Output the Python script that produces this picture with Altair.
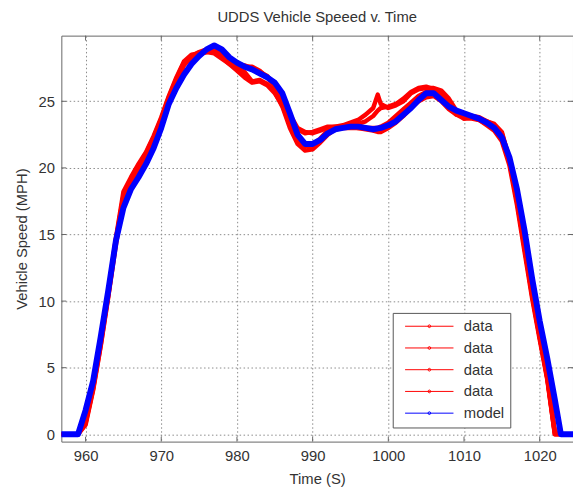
import altair as alt
import pandas as pd

TITLE = "UDDS Vehicle Speeed v. Time"
X_TITLE = "Time (S)"
Y_TITLE = "Vehicle Speed (MPH)"
XTICKS = [960, 970, 980, 990, 1000, 1010, 1020]
YTICKS = [0, 5, 10, 15, 20, 25]
X_DOMAIN = [956.8, 1024.4]
Y_DOMAIN = [-0.55, 29.93]

SERIES = ["data1", "data2", "data3", "data4", "model"]
COLORS = ["#ff0000", "#ff0000", "#ff0000", "#ff0000", "#0000ff"]

T_DATA = [957, 958, 959, 960, 961, 962, 963, 964, 965, 966, 967, 968, 969, 970,
          971, 972, 973, 974, 975, 976, 977, 978, 979, 980, 981, 982, 983, 984,
          985, 986, 987, 988, 989, 990, 991, 992, 993, 994, 995, 996, 997, 998,
          998.6, 999, 1000, 1001, 1002, 1003, 1004, 1005, 1006, 1007, 1008, 1009,
          1010, 1011, 1012, 1013, 1014, 1015, 1016, 1017, 1018, 1019, 1020, 1021,
          1022, 1023, 1024]

DATA1 = [0, 0, 0, 0.9, 3.5, 6.9, 10.6, 14.6, 17.9, 19.1, 20.1, 21.1, 22.3, 23.7,
         25.3, 26.7, 27.9, 28.4, 28.6, 28.8, 29.0, 28.6, 28.0, 27.7, 27.6, 27.6, 27.3, 26.8,
         26.1, 25.2, 24.0, 23.0, 22.7, 22.6, 22.8, 23.0, 23.1, 23.2, 23.4, 23.6, 24.0, 24.5,
         25.5, 24.8, 24.5, 24.7, 25.0, 25.6, 25.9, 26.0, 26.0, 25.8, 25.2, 24.3,
         23.7, 23.9, 23.8, 23.5, 23.3, 22.7, 20.6, 17.5, 14.0, 10.4, 7.3, 4.3,
         0.2, 0, 0]
DATA2 = [0, 0, 0, 0.7, 3.3, 6.6, 10.3, 14.2, 17.6, 18.9, 19.9, 20.9, 22.0, 23.4,
         25.0, 26.4, 27.7, 28.3, 28.5, 28.7, 28.8, 28.3, 27.8, 27.5, 27.2, 26.5, 26.6, 26.3,
         25.7, 24.6, 23.0, 21.8, 21.3, 21.4, 21.9, 22.5, 22.9, 23.0, 23.0, 23.0, 22.9, 22.8,
         22.7, 22.7, 23.0, 23.4, 23.9, 24.5, 25.0, 25.3, 25.4, 25.0, 24.4, 24.0,
         23.9, 23.8, 23.6, 23.2, 22.8, 22.0, 20.2, 17.2, 13.7, 10.2, 7.1, 4.1,
         0, 0, 0]
DATA3 = [0, 0, 0, 1.1, 3.8, 7.0, 10.7, 14.7, 18.2, 19.3, 20.3, 21.2, 22.4, 23.8,
         25.4, 26.8, 28.0, 28.5, 28.6, 28.7, 28.6, 28.2, 27.8, 27.3, 26.8, 26.4, 26.5, 26.2,
         25.6, 24.7, 23.2, 22.1, 21.6, 21.7, 22.2, 22.8, 23.0, 23.1, 23.1, 23.0, 23.0, 23.0,
         23.0, 23.1, 23.4, 23.9, 24.4, 24.9, 25.4, 25.7, 25.8, 25.4, 24.6, 24.0,
         23.7, 23.7, 23.6, 23.3, 23.0, 22.4, 20.5, 17.5, 14.0, 10.5, 7.3, 4.2,
         0, 0, 0]
DATA4 = [0, 0, 0, 0.8, 3.4, 6.7, 10.4, 14.4, 17.8, 19.0, 20.0, 21.0, 22.1, 23.5,
         25.1, 26.6, 27.8, 28.4, 28.7, 28.9, 28.9, 28.5, 28.0, 27.8, 27.7, 27.5, 27.2, 26.9,
         26.2, 25.1, 23.7, 22.9, 22.6, 22.7, 22.9, 23.1, 23.1, 23.1, 23.2, 23.3, 23.5, 23.9,
         24.3, 24.5, 24.6, 24.8, 25.2, 25.7, 26.0, 26.1, 25.9, 25.6, 24.9, 24.2,
         23.9, 23.9, 23.7, 23.5, 23.2, 22.6, 20.7, 17.6, 14.2, 10.6, 7.4, 4.3,
         0.1, 0, 0]

T_MODEL = [956.8, 959.0, 960, 961, 962, 963, 964, 965, 966, 967, 968, 969, 970,
           971, 972, 973, 974, 975, 976, 977, 978, 979, 980, 981, 982, 983, 984,
           985, 986, 987, 988, 989, 990, 991, 992, 993, 994, 995, 996, 997, 998,
           999, 1000, 1001, 1002, 1003, 1004, 1005, 1006, 1007, 1008, 1009,
           1010, 1011, 1012, 1013, 1014, 1015, 1016, 1017, 1018, 1019, 1020, 1021,
           1022, 1022.8, 1024.4]
MODEL = [0, 0, 1.8, 4.0, 7.3, 10.8, 14.5, 17.0, 18.4, 19.3, 20.3, 21.5, 23.0,
         24.8, 26.0, 27.0, 27.8, 28.4, 28.9, 29.2, 28.9, 28.3, 27.9, 27.6, 27.4, 27.1, 26.8,
         26.4, 25.6, 24.1, 22.5, 21.8, 21.8, 22.1, 22.6, 22.9, 23.0, 23.1, 23.1, 23.0, 22.9,
         23.0, 23.2, 23.5, 24.0, 24.5, 25.1, 25.6, 25.6, 25.1, 24.6, 24.3,
         24.1, 23.9, 23.7, 23.4, 23.0, 22.3, 20.8, 18.4, 15.3, 11.7, 8.5, 5.7,
         2.6, 0, 0]

rows = []
for name, vals in zip(SERIES[:4], [DATA1, DATA2, DATA3, DATA4]):
    for i, (t, v) in enumerate(zip(T_DATA, vals)):
        rows.append({"t": t, "v": v, "series": name, "i": i})
df_data = pd.DataFrame(rows)
df_model = pd.DataFrame({"t": T_MODEL, "v": MODEL, "series": "model",
                         "i": list(range(len(T_MODEL)))})
df_all = pd.concat([df_data, df_model], ignore_index=True)

W, H = 518, 411
FONT = "Liberation Sans"
TXT = "#333333"
FRAME = "#666666"

xscale = alt.Scale(domain=X_DOMAIN, nice=False, zero=False)
yscale = alt.Scale(domain=Y_DOMAIN, nice=False, zero=False)
cscale = alt.Scale(domain=SERIES, range=COLORS)

xaxis = alt.Axis(values=XTICKS, title=X_TITLE, grid=True, labelPadding=7,
                 titlePadding=8, format="d")
yaxis = alt.Axis(values=YTICKS, title=Y_TITLE, grid=True, labelPadding=7,
                 titlePadding=9, format="d")

legend = alt.Legend(
    title=None, orient="none", legendX=335.5, legendY=280.7,
    symbolType="M-0.25,0H12M5.55,0A0.35,0.35,0,1,1,6.25,0A0.35,0.35,0,1,1,5.55,0Z",
    symbolSize=64, symbolStrokeWidth=1, labelOffset=51, padding=6,
    rowPadding=6, strokeColor="#555555", fillColor="white",
    labelFontSize=15, labelFont=FONT, labelColor=TXT,
    labelExpr="indexof(datum.label, 'data') == 0 ? 'data' : datum.label",
)

# thin copy underneath: only provides the legend (1px line + dot)
legend_lines = alt.Chart(df_all).mark_line(strokeWidth=1, clip=True).encode(
    x=alt.X("t:Q", scale=xscale, axis=xaxis),
    y=alt.Y("v:Q", scale=yscale, axis=yaxis),
    color=alt.Color("series:N", scale=cscale, legend=legend),
    order="i:Q",
)

red_lines = alt.Chart(df_data).mark_line(
    strokeWidth=4.5, strokeCap="round", strokeJoin="round", clip=True,
    color=COLORS[0]
).encode(
    x=alt.X("t:Q", scale=xscale),
    y=alt.Y("v:Q", scale=yscale),
    detail="series:N",
    order="i:Q",
)

blue_line = alt.Chart(df_model).mark_line(
    strokeWidth=6, strokeCap="round", strokeJoin="round", clip=True,
    color=COLORS[4]
).encode(
    x=alt.X("t:Q", scale=xscale),
    y=alt.Y("v:Q", scale=yscale),
    order="i:Q",
)

df_xt = pd.DataFrame({"t": XTICKS})
df_yt = pd.DataFrame({"v": YTICKS})
tick_style = dict(color=FRAME, strokeWidth=1)
xt_bottom = alt.Chart(df_xt).mark_rule(**tick_style).encode(
    x=alt.X("t:Q", scale=xscale), y=alt.value(H), y2=alt.value(H - 5))
xt_top = alt.Chart(df_xt).mark_rule(**tick_style).encode(
    x=alt.X("t:Q", scale=xscale), y=alt.value(0), y2=alt.value(5))
yt_left = alt.Chart(df_yt).mark_rule(**tick_style).encode(
    y=alt.Y("v:Q", scale=yscale), x=alt.value(0), x2=alt.value(5))
yt_right = alt.Chart(df_yt).mark_rule(**tick_style).encode(
    y=alt.Y("v:Q", scale=yscale), x=alt.value(W), x2=alt.value(W - 5))

chart = alt.layer(
    legend_lines, xt_bottom, xt_top, yt_left, yt_right, red_lines, blue_line
).properties(
    width=W, height=H,
    title=alt.TitleParams(TITLE, fontSize=15, font=FONT, fontWeight="normal",
                          color=TXT, anchor="middle", offset=10),
    autosize=alt.AutoSizeParams(type="none"),
    padding={"left": 54, "top": 25, "right": 0, "bottom": 45},
).configure_view(
    stroke=FRAME, strokeWidth=1
).configure_axis(
    domain=False, ticks=False, gridColor="#8a8a8a", gridDash=[1.5, 2.5],
    gridWidth=1, labelFont=FONT, labelFontSize=15, labelColor=TXT,
    titleFont=FONT, titleFontSize=15, titleFontWeight="normal", titleColor=TXT,
)

chart.save("out.html", embed_options={"renderer": "svg", "actions": False})
